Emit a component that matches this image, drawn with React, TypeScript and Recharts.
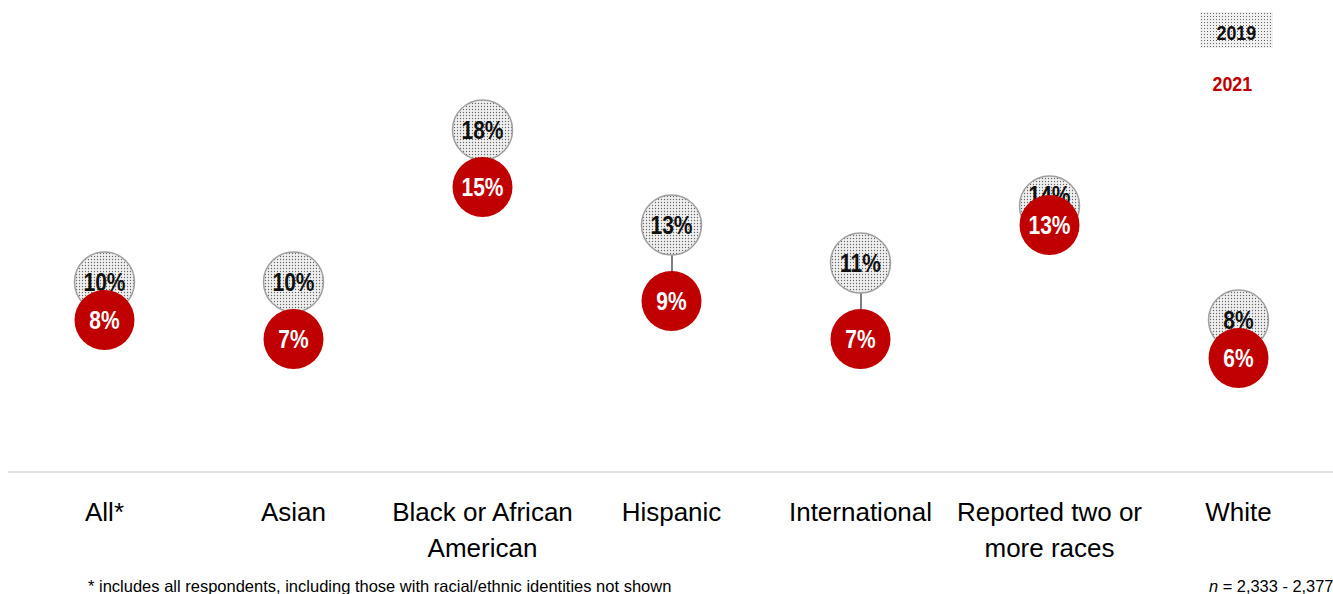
import { Bar, ComposedChart, Scatter, XAxis, YAxis } from "recharts";

const categories = [
  "All*",
  "Asian",
  "Black or African\nAmerican",
  "Hispanic",
  "International",
  "Reported two or\nmore races",
  "White",
];
const values2019 = [10, 10, 18, 13, 11, 14, 8];
const values2021 = [8, 7, 15, 9, 7, 13, 6];

const data = categories.map((name, i) => ({
  name,
  y2019: values2019[i],
  y2021: values2021[i],
}));

const RED = "#c00000";
const SANS = "'Liberation Sans', Arial, sans-serif";

// narrow bold label centred on the circle
const CircleLabel = ({ cx, cy, text, color, lift = 0 }: any) => (
  <text
    transform={`translate(${cx},${cy - lift}) scale(0.84,1)`}
    dy="0.36em"
    textAnchor="middle"
    fontFamily={SANS}
    fontWeight="bold"
    fontSize={25}
    fill={color}
  >
    {text}
  </text>
);

const DotCircle = (props: any) => {
  const { cx, cy, payload } = props;
  // when both circles nearly coincide the 2019 label sits a bit higher
  const lift = payload.y2019 - payload.y2021 <= 1 ? 11 : 0;
  return (
    <g>
      <circle cx={cx} cy={cy} r={30} fill="url(#dots)" stroke="#a0a0a0" strokeWidth={1.5} />
      <CircleLabel cx={cx} cy={cy} text={`${payload.y2019}%`} color="#111" lift={lift} />
    </g>
  );
};

const RedCircle = (props: any) => {
  const { cx, cy, payload } = props;
  return (
    <g>
      <circle cx={cx} cy={cy} r={30} fill={RED} />
      <CircleLabel cx={cx} cy={cy} text={`${payload.y2021}%`} color="#fff" />
    </g>
  );
};

const CategoryTick = (props: any) => {
  const { x, y, payload } = props;
  const lines = String(payload.value).split("\n");
  return (
    <g transform={`translate(${x},${y})`}>
      <text textAnchor="middle" fontFamily={SANS} fontSize={26} fill="#000">
        {lines.map((line, i) => (
          <tspan key={i} x={0} dy={i === 0 ? 41 : 36}>
            {line}
          </tspan>
        ))}
      </text>
    </g>
  );
};

const legendText = {
  display: "inline-block",
  transform: "scaleX(0.85)",
};

export default function App() {
  return (
    <div style={{ position: "fixed", left: 0, top: 0, width: 1333, height: 594, background: "#fff", overflow: "hidden" }}>
      <svg width={0} height={0} style={{ position: "absolute" }}>
        <defs>
          <pattern id="dots" width={3} height={3} patternUnits="userSpaceOnUse">
            <rect width={3} height={3} fill="#f0f0f0" />
            <circle cx={1.5} cy={1.5} r={0.7} fill="#666" />
          </pattern>
        </defs>
      </svg>
      <ComposedChart width={1333} height={594} data={data} margin={{ top: 92, right: 0, bottom: 0, left: 8 }}>
        <XAxis
          dataKey="name"
          interval={0}
          tickLine={false}
          padding={{ left: 2, right: 0 }}
          axisLine={{ stroke: "#d9d9d9", strokeWidth: 1.5 }}
          tick={<CategoryTick />}
          height={122}
        />
        <YAxis type="number" domain={[0, 20]} hide />
        <Bar
          dataKey={(d: any) => [d.y2021, d.y2019]}
          barSize={2}
          fill="#7f7f7f"
          isAnimationActive={false}
        />
        <Scatter dataKey="y2019" shape={<DotCircle />} isAnimationActive={false} />
        <Scatter dataKey="y2021" shape={<RedCircle />} isAnimationActive={false} />
      </ComposedChart>
      <div
        style={{
          position: "absolute",
          left: 1200,
          top: 12,
          width: 73,
          height: 36,
          backgroundColor: "#f0f0f0",
          backgroundImage: "radial-gradient(#666 0.7px, transparent 0.9px)",
          backgroundSize: "3px 3px",
          fontFamily: SANS,
          fontWeight: "bold",
          fontSize: 21,
          lineHeight: "42px",
          textAlign: "center",
          color: "#111",
        }}
      >
        <span style={legendText}>2019</span>
      </div>
      <div
        style={{
          position: "absolute",
          left: 1200,
          top: 66,
          width: 64,
          lineHeight: "36px",
          textAlign: "center",
          fontFamily: SANS,
          fontWeight: "bold",
          fontSize: 21,
          color: RED,
        }}
      >
        <span style={legendText}>2021</span>
      </div>
      <div style={{ position: "absolute", left: 88, top: 577, fontFamily: SANS, fontSize: 16.5, color: "#000", whiteSpace: "nowrap" }}>
        * includes all respondents, including those with racial/ethnic identities not shown
      </div>
      <div style={{ position: "absolute", left: 1209, top: 577, fontFamily: SANS, fontSize: 16.4, color: "#000", whiteSpace: "nowrap" }}>
        <i>n</i> = 2,333 - 2,377
      </div>
    </div>
  );
}
